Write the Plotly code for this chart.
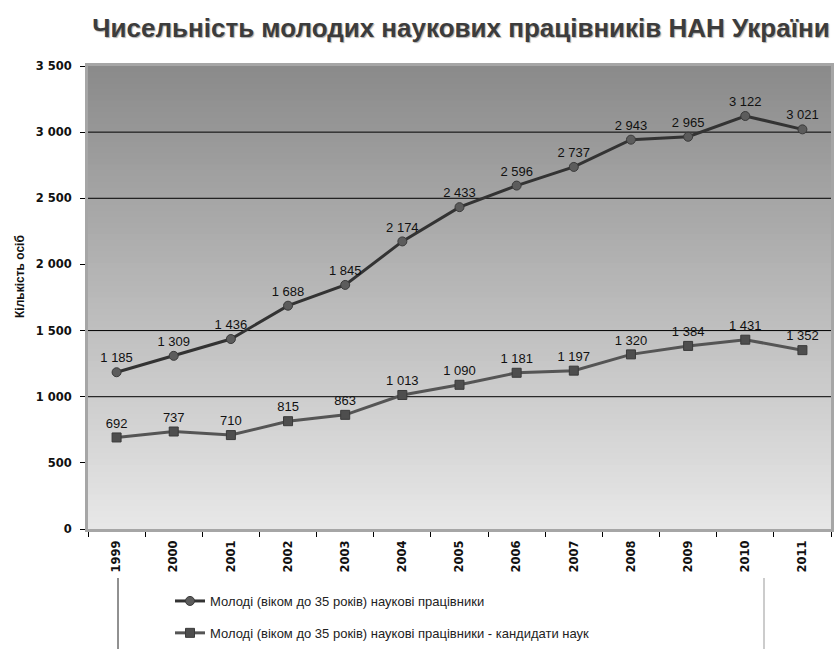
import plotly.graph_objects as go

years = ["1999", "2000", "2001", "2002", "2003", "2004", "2005",
         "2006", "2007", "2008", "2009", "2010", "2011"]
young_scientists = [1185, 1309, 1436, 1688, 1845, 2174, 2433,
                    2596, 2737, 2943, 2965, 3122, 3021]
young_candidates = [692, 737, 710, 815, 863, 1013, 1090,
                    1181, 1197, 1320, 1384, 1431, 1352]
series_names = ["Молоді (віком до 35 років) наукові працівники",
                "Молоді (віком до 35 років) наукові працівники - кандидати наук"]
title_text = "Чисельність молодих наукових працівників НАН України"
y_title = "Кількість осіб"
y_ticks = [0, 500, 1000, 1500, 2000, 2500, 3000, 3500]
grid_values = [1000, 1500, 2500, 3000]

W, H = 834, 649
L, R, T, B = 88, 3, 66, 120
pw = W - L - R
ph = H - T - B
FONT = "Liberation Sans, Arial"
TICKFONT = "DejaVu Sans"

def px_x(x):
    return (x - L) / pw

def px_y(y):
    return (H - B - y) / ph

fig = go.Figure()

fig.add_trace(go.Scatter(
    x=years, y=young_scientists, name=series_names[0],
    mode="lines+markers+text", legendgroup="a",
    line=dict(color="#333333", width=3),
    marker=dict(symbol="circle", size=9, color="#5c5c5c",
                line=dict(color="#3a3a3a", width=1)),
    texttemplate="%{y:,d}", textposition="top center",
    textfont=dict(family=FONT, size=13, color="#111111"),
))
fig.add_trace(go.Scatter(
    x=years, y=young_candidates, name=series_names[1],
    mode="lines+markers+text", legendgroup="b",
    line=dict(color="#555555", width=3),
    marker=dict(symbol="square", size=9, color="#4e4e4e",
                line=dict(color="#3a3a3a", width=1)),
    texttemplate="%{y:,d}", textposition="top center",
    textfont=dict(family=FONT, size=13, color="#111111"),
))

shapes = []
# vertical gradient background
N = 80
top = (0x8a, 0x8a, 0x8a)
bot = (0xe8, 0xe8, 0xe8)
for i in range(N):
    t = (i + 0.5) / N
    c = tuple(int(round(bot[k] + (top[k] - bot[k]) * t)) for k in range(3))
    shapes.append(dict(type="rect", xref="paper", yref="paper",
                       x0=0, x1=1, y0=i / N, y1=(i + 1) / N + 0.002,
                       fillcolor="rgb(%d,%d,%d)" % c, line=dict(width=0),
                       layer="below"))
for g in grid_values:
    shapes.append(dict(type="line", xref="paper", yref="y", x0=0, x1=1,
                       y0=g, y1=g, line=dict(color="#000000", width=1),
                       layer="below"))
# legend frame lines
shapes.append(dict(type="line", xref="paper", yref="paper",
                   x0=px_x(118), x1=px_x(118), y0=px_y(578), y1=px_y(649),
                   line=dict(color="#222222", width=1)))
shapes.append(dict(type="line", xref="paper", yref="paper",
                   x0=px_x(764), x1=px_x(764), y0=px_y(578), y1=px_y(649),
                   line=dict(color="#999999", width=1)))

fig.update_layout(
    width=W, height=H,
    margin=dict(l=L, r=R, t=T, b=B, autoexpand=False),
    paper_bgcolor="white", plot_bgcolor="rgba(0,0,0,0)",
    separators=", ",
    shapes=shapes,
    font=dict(family=FONT, color="#111111"),
    title=dict(text=title_text, x=461 / W, xanchor="center",
               y=1 - 28 / H, yanchor="middle",
               font=dict(family=FONT, size=26, weight="bold", color="#3c3c3c",
                         shadow="1px 1px 1px #b0b0b0")),
    showlegend=True,
    legend=dict(x=px_x(170), y=px_y(586), xanchor="left", yanchor="top",
                orientation="v", traceorder="grouped", tracegroupgap=12,
                itemwidth=30, bgcolor="rgba(0,0,0,0)",
                font=dict(family=FONT, size=13, color="#222222")),
    annotations=[dict(text=y_title, xref="paper", yref="paper",
                      x=px_x(20), y=px_y(277), xanchor="center", yanchor="middle",
                      showarrow=False, textangle=-90,
                      font=dict(family=FONT, size=12, weight="bold", color="#111111"))],
)

fig.update_xaxes(
    type="category", range=[-0.5, len(years) - 0.5], automargin=False,
    showline=True, linecolor="#a6a6a6", linewidth=3, mirror=True,
    ticks="outside", tickson="boundaries", ticklen=5, tickcolor="#000000",
    tickangle=-90, showgrid=False,
    tickfont=dict(family=TICKFONT, size=11.5, weight="bold", color="#111111"),
    ticklabelstandoff=4,
)
fig.update_yaxes(
    range=[0, 3500], tickvals=y_ticks, tickformat=",d", automargin=False,
    showline=True, linecolor="#a6a6a6", linewidth=3, mirror=True,
    ticks="outside", ticklen=5, tickcolor="#000000", showgrid=False,
    zeroline=False,
    tickfont=dict(family=TICKFONT, size=11.5, weight="bold", color="#111111"),
    ticklabelstandoff=6,
)

fig.write_html("out.html", config={"displayModeBar": False},
               post_script="document.body.style.margin='0';")
